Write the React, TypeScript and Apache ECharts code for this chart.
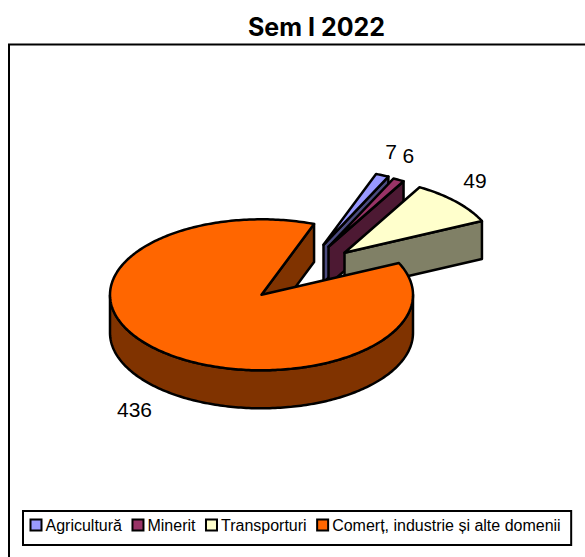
import React, { useEffect, useRef } from "react";
import * as echarts from "echarts";

const categories = ["Agricultură", "Minerit", "Transporturi", "Comerț, industrie și alte domenii"];
const values = [7, 6, 49, 436];
const chartTitle = "Sem I 2022";
const topColors = ["#9999FF", "#993366", "#FFFFCC", "#FF6600"];
const sideColors = ["#4C4C80", "#4D1933", "#808066", "#803300"];

// Layout of the hand-tilted pie
const PIE = { cx: 261.5, cy: 294.8, rx: 151.5, ry: 75.5, depth: 38, firstClock: 20.3 };
const explodeDx = [62, 67, 83, 0];
const explodeDy = [-50, -48, -42, 0];
const labelX = [391, 408.3, 475, 134.5];
const labelY = [151.5, 155.7, 180, 409];

const total = values.reduce((a, b) => a + b, 0);

function makeRenderItem(index: number) {
  return (_params: any, api: any) => {
    const value = api.value(0) as number;
    const before = values.slice(0, index).reduce((a, b) => a + b, 0);
    const startClock = PIE.firstClock + (before / total) * 360;
    const sweep = (value / total) * 360;
    const ox = PIE.cx + explodeDx[index];
    const oy = PIE.cy + explodeDy[index];
    const at = (clock: number, drop = 0): number[] => {
      const a = ((90 - clock) * Math.PI) / 180;
      return [ox + PIE.rx * Math.cos(a), oy - PIE.ry * Math.sin(a) + drop];
    };
    const steps = Math.max(2, Math.ceil(sweep));
    const rim: number[][] = [];
    for (let i = 0; i <= steps; i++) rim.push(at(startClock + (sweep * i) / steps));

    const stroke = { stroke: "#000", lineWidth: 2.5, lineJoin: "round" };
    const children: any[] = [];

    // outer wall: the part of the rim that faces the viewer (clock 90..270)
    const wallTop: number[][] = [];
    const wallBottom: number[][] = [];
    for (let i = 0; i <= steps; i++) {
      const c = startClock + (sweep * i) / steps;
      const m = ((c % 360) + 360) % 360;
      if (m >= 90 && m <= 270) {
        wallTop.push(at(c));
        wallBottom.push(at(c, PIE.depth));
      }
    }
    if (wallTop.length > 1) {
      children.push({
        type: "polygon",
        shape: { points: [...wallTop, ...wallBottom.reverse()] },
        style: { fill: sideColors[index], ...stroke },
      });
    }

    // cut face at the clockwise end of the slice
    const end = at(startClock + sweep);
    const endDown = at(startClock + sweep, PIE.depth);
    children.push({
      type: "polygon",
      shape: { points: [[ox, oy], end, endDown, [ox, oy + PIE.depth]] },
      style: { fill: sideColors[index], ...stroke },
    });

    // top face
    children.push({
      type: "polygon",
      shape: { points: [[ox, oy], ...rim] },
      style: { fill: topColors[index], ...stroke },
    });

    // value label
    children.push({
      type: "text",
      x: labelX[index],
      y: labelY[index],
      style: {
        text: String(value),
        fill: "#000",
        font: '21px "Liberation Sans", Arial, sans-serif',
        textAlign: "center",
        textVerticalAlign: "middle",
      },
    });
    return { type: "group", children };
  };
}

export default function App() {
  const ref = useRef<HTMLDivElement>(null);
  useEffect(() => {
    const chart = echarts.init(ref.current!, undefined, { renderer: "svg" });
    chart.setOption({
      animation: false,
      backgroundColor: "#fff",
      title: {
        text: chartTitle,
        left: 248,
        top: 14,
        padding: 0,
        textStyle: {
          fontFamily: "Inter",
          fontWeight: "bold",
          fontSize: 25,
          color: "#000",
        },
      },
      legend: {
        data: categories,
        left: 23,
        top: 511,
        width: 555,
        orient: "horizontal",
        padding: [6, 10.5, 12, 6.5],
        itemGap: 9.5,
        itemWidth: 11,
        itemHeight: 11,
        itemStyle: { borderColor: "#000", borderWidth: 2 },
        icon: "rect",
        borderColor: "#000",
        borderWidth: 2,
        backgroundColor: "#fff",
        selectedMode: false,
        textStyle: {
          fontFamily: '"Liberation Sans", Arial, sans-serif',
          fontSize: 16,
          color: "#000",
          padding: [0, 0, 0, -1],
        },
      },
      graphic: [
        {
          type: "rect",
          z: -10,
          shape: { x: 9, y: 44.5, width: 700, height: 700 },
          style: { fill: "#fff", stroke: "#000", lineWidth: 2 },
        },
      ],
      series: categories.map((name, i) => ({
        type: "custom",
        name,
        coordinateSystem: "none",
        itemStyle: { color: topColors[i] },
        data: [[values[i]]],
        renderItem: makeRenderItem(i),
        z: 2 + i,
        silent: true,
      })),
    });
    return () => chart.dispose();
  }, []);
  return (
    <div
      ref={ref}
      style={{ width: 585, height: 557, position: "absolute", left: 0, top: 0, overflow: "hidden" }}
    />
  );
}
